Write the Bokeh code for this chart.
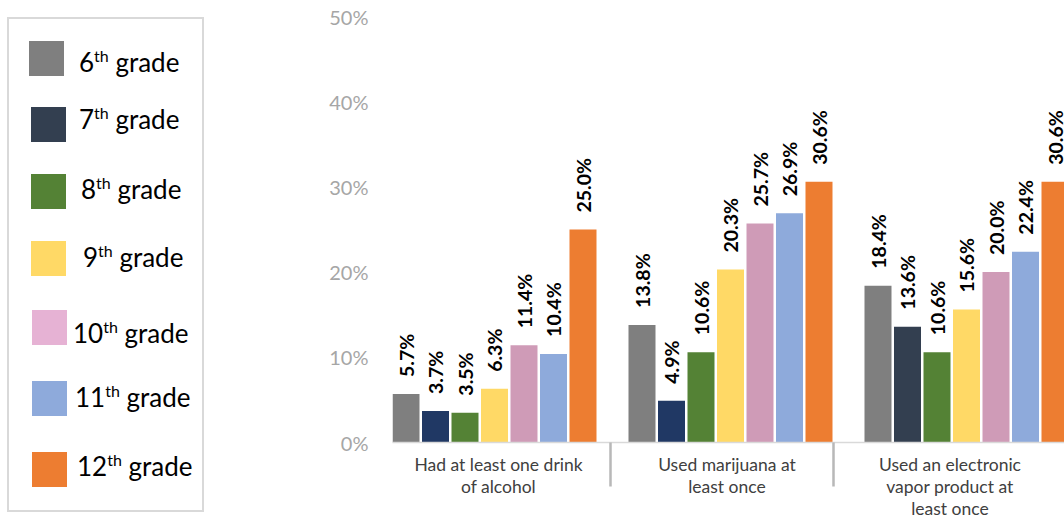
from bokeh.plotting import figure
from bokeh.models import Range1d, FixedTicker, PrintfTickFormatter, ColumnDataSource, Div
from bokeh.layouts import row
from bokeh.core.properties import value
from bokeh.embed import file_html
from bokeh.resources import INLINE

# ---------------- data ----------------
categories = [
    "Had at least one drink\nof alcohol",
    "Used marijuana at\nleast once",
    "Used an electronic\nvapor product at\nleast once",
]
grades = ["6", "7", "8", "9", "10", "11", "12"]
grade_6 = [5.7, 13.8, 18.4]
grade_7 = [3.7, 4.9, 13.6]
grade_8 = [3.5, 10.6, 10.6]
grade_9 = [6.3, 20.3, 15.6]
grade_10 = [11.4, 25.7, 20.0]
grade_11 = [10.4, 26.9, 22.4]
grade_12 = [25.0, 30.6, 30.6]
y_ticks = [0, 10, 20, 30, 40, 50]

series = [grade_6, grade_7, grade_8, grade_9, grade_10, grade_11, grade_12]

# ---------------- styles ----------------
bar_colors = [
    ["#7f7f7f"] * 3,
    ["#203864", "#203864", "#333f50"],
    ["#548235"] * 3,
    ["#ffd966"] * 3,
    ["#cf9bb7"] * 3,
    ["#8eaadb"] * 3,
    ["#ed7d31"] * 3,
]
legend_colors = ["#7f7f7f", "#333f50", "#548235", "#ffd966", "#e6b2d4", "#8eaadb", "#ed7d31"]
FONT = "Lato"

# ---------------- layout ----------------
PAGE_W, PAGE_H = 1064, 521
LEG_W = 210                        # legend panel width
FL, FT, FB = 392, 16, 443          # frame left / top / bottom (page px)
CAT_PX = 236                       # pixels per category
n_series = len(series)
pitch = 1.0 / (n_series + 1)
bar_w = 0.1144
label_pos = [0.517, 1.485, 2.430]  # category label anchors
sep_pos = [0.992, 1.936]           # group separators
x_start = 16 / CAT_PX
x_end = x_start + (PAGE_W - FL) / CAT_PX

# ---------------- chart ----------------
p = figure(width=PAGE_W - LEG_W, height=PAGE_H, title=None,
           x_range=Range1d(x_start, x_end), y_range=Range1d(0, 50),
           output_backend="svg", toolbar_location=None,
           min_border_left=FL - LEG_W, min_border_right=0, min_border_top=FT,
           min_border_bottom=PAGE_H - FB)
p.outline_line_color = None
p.xgrid.grid_line_color = None
p.ygrid.grid_line_color = None

for j, vals in enumerate(series):
    xs = [i + pitch * (j + 1) for i in range(len(categories))]
    src = ColumnDataSource(dict(x=xs, top=vals, color=bar_colors[j],
                                lab=[f"{v:.1f}%" for v in vals]))
    p.vbar(x="x", top="top", bottom=0, width=bar_w, fill_color="color", line_color=None, source=src)
    p.text(x="x", y="top", text="lab", source=src, angle=1.5707963, text_align="left",
           text_baseline="middle", y_offset=-17, text_font=value(FONT), text_font_size="19.5px",
           text_font_style="bold", text_color="#000000")

xa = p.xaxis[0]
xa.ticker = FixedTicker(ticks=label_pos, minor_ticks=sep_pos)
xa.major_label_overrides = {pos: lab for pos, lab in zip(label_pos, categories)}
xa.major_tick_out = 0
xa.major_tick_in = 0
xa.major_tick_line_color = None
xa.minor_tick_out = 44
xa.minor_tick_in = 0
xa.minor_tick_line_color = "#b8b8b8"
xa.minor_tick_line_width = 2.5
xa.axis_line_color = "#d9d9d9"
xa.axis_line_width = 1.5
xa.major_label_standoff = -33
xa.major_label_text_font = FONT
xa.major_label_text_font_size = "17.5px"
xa.major_label_text_color = "#404040"
xa.major_label_text_line_height = 1.05

ya = p.yaxis[0]
ya.ticker = FixedTicker(ticks=y_ticks)
ya.formatter = PrintfTickFormatter(format="%d%%")
ya.axis_line_color = None
ya.major_tick_line_color = None
ya.minor_tick_line_color = None
ya.major_tick_out = 0
ya.major_label_standoff = 24
ya.major_label_text_font = FONT
ya.major_label_text_font_size = "20px"
ya.major_label_text_color = "#a6a6a6"

# ---------------- legend panel ----------------
sw_left = [29, 31, 31, 31, 32, 32, 32]
sw_top = [41, 107, 174, 241, 310, 381, 452]
txt_x = [79, 79, 81, 83, 73, 75, 77]
txt_base = [72, 129, 199, 267, 343, 407, 476]
fs, sfs = 26, 16
parts = ['<div style="position:relative;width:%dpx;height:%dpx;font-family:Lato,sans-serif;">'
         % (LEG_W, PAGE_H),
         '<div style="position:absolute;box-sizing:border-box;left:7px;top:17px;width:197px;'
         'height:495px;border:2px solid #d9d9d9;"></div>']
for k, g in enumerate(grades):
    parts.append('<div style="position:absolute;left:%dpx;top:%dpx;width:35px;height:35px;'
                 'background:%s;"></div>' % (sw_left[k], sw_top[k], legend_colors[k]))
    parts.append('<div style="position:absolute;left:%dpx;top:%dpx;font-size:%dpx;line-height:32px;'
                 'color:#000;white-space:nowrap;">%s<span style="font-size:%dpx;position:relative;'
                 'top:-10px;">th</span> grade</div>'
                 % (txt_x[k], txt_base[k] - 26, fs, g, sfs))
parts.append('</div>')
legend = Div(text="".join(parts), width=LEG_W, height=PAGE_H, margin=0)

layout = row(legend, p)
open("out.html", "w").write(file_html(layout, INLINE))
